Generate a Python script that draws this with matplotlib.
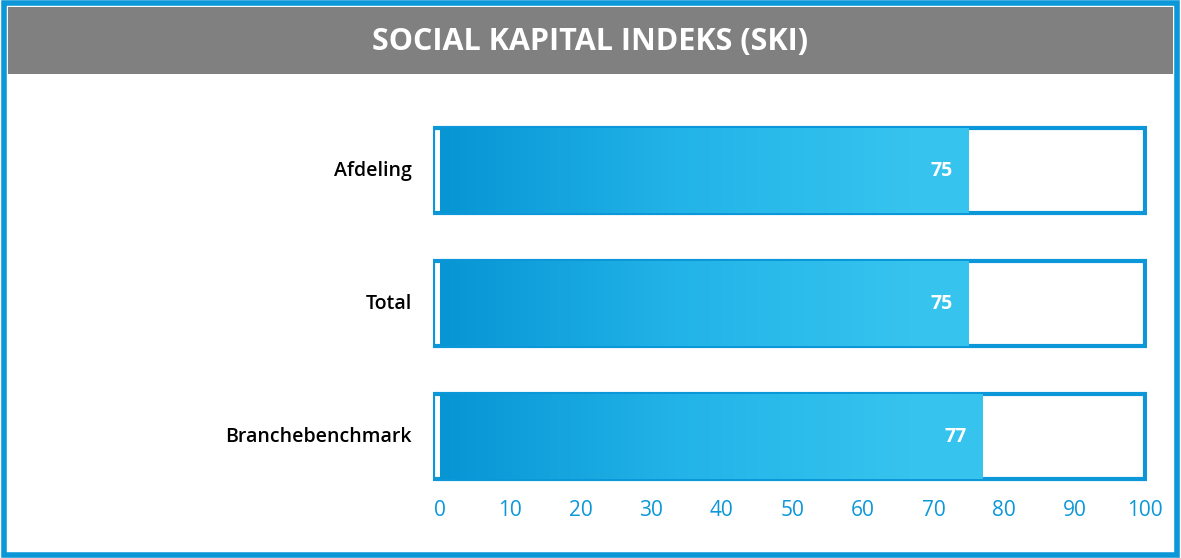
import numpy as np
import matplotlib.pyplot as plt
from matplotlib.patches import Rectangle
from matplotlib.colors import LinearSegmentedColormap

plt.rcParams['font.family'] = 'Open Sans'

categories = ['Afdeling', 'Total', 'Branchebenchmark']
values = [75, 75, 77]
ticks = [0, 10, 20, 30, 40, 50, 60, 70, 80, 90, 100]

blue = '#0c98d8'
cmap = LinearSegmentedColormap.from_list('g', ['#0795d4', '#22b3e8', '#36c4ee', '#36c4ee'])

fig = plt.figure(figsize=(11.81, 5.58), dpi=100)
# outer border and title band
fig.patches.append(Rectangle((0.003, 0.005), 0.994, 0.99, transform=fig.transFigure,
                             fill=False, edgecolor=blue, linewidth=4))
fig.patches.append(Rectangle((0.007, 0.868), 0.986, 0.12, transform=fig.transFigure,
                             facecolor='#808080', edgecolor='none'))
fig.text(0.5, 0.925, 'SOCIAL KAPITAL INDEKS (SKI)', ha='center', va='center',
         color='white', fontsize=22, fontweight='bold')

ax = fig.add_axes([0.3666, 0.122, 0.6046, 0.667])
ax.set_xlim(-1, 100.3)
ax.set_ylim(2.4, -0.4)
h = 0.64
grad = np.linspace(0, 1, 256).reshape(1, -1)
for i, (c, v) in enumerate(zip(categories, values)):
    ax.add_patch(Rectangle((-1, i - h / 2), 101, h, fill=False, edgecolor=blue, linewidth=3))
    im = ax.imshow(grad, cmap=cmap, aspect='auto', extent=(0, 100, i + h / 2, i - h / 2), zorder=2)
    im.set_clip_path(Rectangle((0, i - h / 2), v, h, transform=ax.transData))
    ax.text(v - 2.2, i, str(v), ha='right', va='center', color='white',
            fontsize=14, fontweight='bold', zorder=3)
    ax.text(-4, i, c, ha='right', va='center', fontsize=14, color='black', fontweight='semibold')

ax.set_xticks(ticks)
ax.set_xticklabels([str(t) for t in ticks], color=blue, fontsize=15)
ax.set_yticks([])
ax.tick_params(axis='x', length=0, pad=7)
for s in ax.spines.values():
    s.set_visible(False)

fig.savefig('out.png', dpi=100)
